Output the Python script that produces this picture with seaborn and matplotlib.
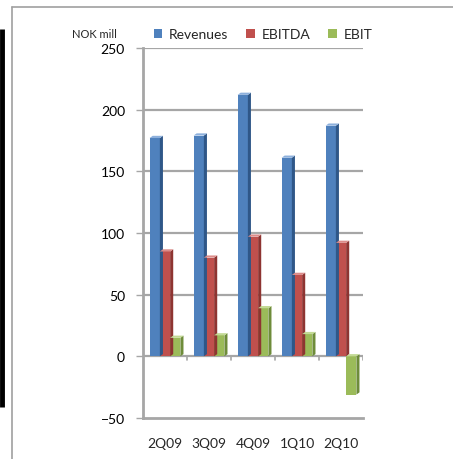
import numpy as np
import pandas as pd
import matplotlib
matplotlib.use("Agg")
import matplotlib.pyplot as plt
from matplotlib.patches import Polygon, Patch
from matplotlib.lines import Line2D
import seaborn as sns

# data
quarters = ["2Q09", "3Q09", "4Q09", "1Q10", "2Q10"]
revenues = [177, 179, 212, 161, 187]
ebitda = [85, 80, 97, 66, 92]
ebit = [15, 17, 39, 18, -31]
series = ["Revenues", "EBITDA", "EBIT"]
yticks = [-50, 0, 50, 100, 150, 200, 250]

colors = {"Revenues": "#4F81BD", "EBITDA": "#C0504D", "EBIT": "#9BBB59"}
side_colors = {"Revenues": "#2F5788", "EBITDA": "#8E3431", "EBIT": "#6E8C3A"}
top_colors = {"Revenues": "#8DB0DC", "EBITDA": "#DC8C8A", "EBIT": "#C3DA95"}

df = pd.DataFrame({
    "quarter": quarters * 3,
    "series": ["Revenues"] * 5 + ["EBITDA"] * 5 + ["EBIT"] * 5,
    "value": revenues + ebitda + ebit,
})

sns.set_style("white")
plt.rcParams["font.family"] = ["Lato", "DejaVu Sans"]

fig = plt.figure(figsize=(4.53, 4.6), dpi=100)
ax = fig.add_axes([143 / 453, 1 - 419 / 460, 220 / 453, 370 / 460])

grid_c = "#A6A6A6"
for t in yticks[1:]:
    ax.axhline(t, color=grid_c, lw=1.6, zorder=0)

sns.barplot(data=df, x="quarter", y="value", hue="series", hue_order=series,
            palette=colors, width=0.7, gap=0, legend=False, ax=ax,
            saturation=1, zorder=2, edgecolor="none")

ax.set_ylim(-50, 250)
ax.set_xlim(-0.5, 4.5)
ax.set_yticks(yticks)

# fake 3D: side and top faces derived from seaborn's bars
dx, dy = 0.07, 1.8
for name, cont in zip(series, ax.containers):
    for bar in cont:
        x0 = bar.get_x()
        w = bar.get_width()
        y0 = bar.get_y()
        h = bar.get_height()
        ylo, yhi = min(y0, y0 + h), max(y0, y0 + h)
        side = Polygon([(x0 + w, ylo), (x0 + w + dx, ylo + dy),
                        (x0 + w + dx, yhi + dy), (x0 + w, yhi)],
                       closed=True, fc=side_colors[name], ec="none", zorder=2)
        top = Polygon([(x0, yhi), (x0 + dx, yhi + dy), (x0 + w + dx, yhi + dy),
                       (x0 + w, yhi)],
                      closed=True, fc=top_colors[name], ec="none", zorder=2)
        ax.add_patch(side)
        ax.add_patch(top)

# category ticks on the zero line
for k in range(len(quarters)):
    ax.plot([k + 0.5, k + 0.5], [0, -3], color=grid_c, lw=1.2, zorder=1)

for s in ["top", "right"]:
    ax.spines[s].set_visible(False)
for s in ["left", "bottom"]:
    ax.spines[s].set_color(grid_c)
    ax.spines[s].set_linewidth(2)

ax.tick_params(axis="y", left=True, length=5, width=1, color=grid_c,
               labelsize=10, pad=8, labelcolor="#000000")
ax.tick_params(axis="x", bottom=False, labelsize=10, pad=10)
ax.set_xlabel("")
ax.set_ylabel("")

fig.text(117 / 453, 1 - 35 / 460, "NOK mill", ha="right", va="center", fontsize=8)

handles = [Patch(facecolor=colors[s], edgecolor="none", label=s) for s in series]
fig.legend(handles=handles, ncol=3, frameon=False, fontsize=10,
           loc="center left", bbox_to_anchor=(148 / 453, 1 - 35 / 460),
           handlelength=0.6, handleheight=0.6, handletextpad=0.5,
           columnspacing=1.3, borderaxespad=0)

# frame decorations of the slide
fig.add_artist(Line2D([12 / 453, 12 / 453], [0, 1 - 8 / 460], color="#A0A0A0", lw=1.2))
fig.add_artist(Line2D([12 / 453, 1], [1 - 8 / 460, 1 - 8 / 460], color="#A0A0A0", lw=1.2))
fig.add_artist(Line2D([2 / 453, 2 / 453], [1 - 408 / 460, 1 - 30 / 460], color="black",
                      lw=3.5, solid_capstyle="butt"))

fig.savefig("out.png", dpi=100)
